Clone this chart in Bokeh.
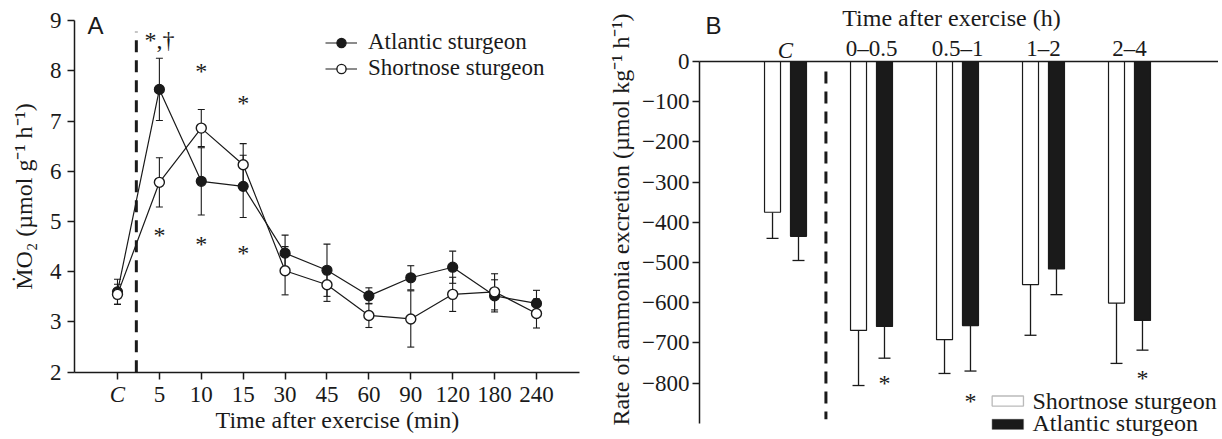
import math
from bokeh.plotting import figure
from bokeh.layouts import row
from bokeh.models import (ColumnDataSource, Whisker, TeeHead, Legend, LegendItem,
                          Label, FixedTicker, BoxAnnotation, Range1d)
from bokeh.core.properties import value
from bokeh.embed import file_html
from bokeh.resources import INLINE

SERIF = "Liberation Serif"
SANS = "Liberation Sans"
INK = "#1a1a1a"

# ---------------- Panel A data ----------------
A_TIMES = ["C", "5", "10", "15", "30", "45", "60", "90", "120", "180", "240"]
A_ATL = [3.60, 7.63, 5.80, 5.70, 4.37, 4.03, 3.52, 3.88, 4.09, 3.52, 3.37]
A_ATL_SE = [0.25, 0.62, 0.67, 0.62, 0.36, 0.52, 0.16, 0.24, 0.32, 0.32, 0.26]
A_SHN = [3.55, 5.78, 6.86, 6.13, 4.02, 3.74, 3.13, 3.06, 3.55, 3.60, 3.17]
A_SHN_SE = [0.20, 0.49, 0.37, 0.42, 0.48, 0.33, 0.24, 0.56, 0.34, 0.36, 0.29]
A_YTICKS = [2, 3, 4, 5, 6, 7, 8, 9]
A_SIG_IDX = [1, 2, 3, 1, 2, 3]
A_SIG_TEXT = ["*,\u2020", "*", "*", "*", "*", "*"]
A_SIG_Y = [8.62, 8.0, 7.36, 4.74, 4.56, 4.38]
A_DIVIDER = 0.45

# ---------------- Panel B data ----------------
B_CATS = ["C", "0\u20130.5", "0.5\u20131", "1\u20132", "2\u20134"]
B_SHN = [-375, -669, -692, -555, -601]
B_SHN_SE = [65, 137, 84, 126, 150]
B_ATL = [-435, -659, -657, -516, -644]
B_ATL_SE = [60, 79, 113, 64, 74]
B_YTICKS = [0, -100, -200, -300, -400, -500, -600, -700, -800]
B_YTICK_LABELS = ["0", "\u2212100", "\u2212200", "\u2212300", "\u2212400",
                  "\u2212500", "\u2212600", "\u2212700", "\u2212800"]
B_SIG_GROUP = [1, 2, 4]
B_SIG_Y = [-800, -845, -788]
B_DIVIDER = 0.47
B_OFFSET = 0.151
B_WIDTH = 0.186


def style_axis(ax, size="23px"):
    ax.axis_line_color = INK
    ax.axis_line_width = 1.5
    ax.major_tick_line_color = INK
    ax.major_tick_line_width = 1.5
    ax.minor_tick_line_color = None
    ax.major_tick_in = 0
    ax.major_tick_out = 7
    ax.major_label_text_font = SERIF
    ax.major_label_text_font_size = size
    ax.major_label_text_color = INK
    ax.axis_label_text_font = SERIF
    ax.axis_label_text_font_size = "24px"
    ax.axis_label_text_font_style = "normal"
    ax.axis_label_text_color = INK


def txt(p, **kw):
    base = dict(text_font=SERIF, text_font_size="24px", text_color=INK,
                text_align="center", text_baseline="middle")
    base.update(kw)
    p.add_layout(Label(**base))


def legend_row(p, label, renderers, loc):
    p.add_layout(Legend(items=[LegendItem(label=label, renderers=renderers)],
                        location=loc, padding=0, margin=0, spacing=0,
                        glyph_width=32, glyph_height=23, label_height=23, label_standoff=11,
                        label_text_font=SERIF, label_text_font_size="23px",
                        label_text_color=INK, border_line_color=None,
                        background_fill_alpha=0))


# ================= Panel A =================
pA = figure(width=599, height=436, output_backend="svg", toolbar_location=None,
            x_range=Range1d(-2.792, 11.504), y_range=Range1d(0.72, 9.40),
            min_border_left=0, min_border_right=0, min_border_top=0, min_border_bottom=0)
pA.outline_line_color = None
pA.xgrid.visible = False
pA.ygrid.visible = False

xA = list(range(len(A_TIMES)))
style_axis(pA.xaxis[0])
style_axis(pA.yaxis[0])
pA.xaxis.fixed_location = 2
pA.xaxis.bounds = (-1.026, 11.03)
pA.xaxis.ticker = FixedTicker(ticks=xA)
pA.xaxis.major_label_overrides = {i: ("" if t == "C" else t) for i, t in zip(xA, A_TIMES)}
pA.xaxis.major_label_standoff = 8
pA.yaxis.fixed_location = -1.026
pA.yaxis.bounds = (2, 9)
pA.yaxis.ticker = FixedTicker(ticks=A_YTICKS)
pA.yaxis.major_label_standoff = 6
pA.yaxis.axis_label = "\u1E40O\u2082 (\u00B5mol g\u207B\u00B9 h\u207B\u00B9)"
pA.yaxis.axis_label_standoff = 10

# divider
pA.segment(x0=[A_DIVIDER], y0=[2], x1=[A_DIVIDER], y1=[8.78],
           line_color=INK, line_width=3, line_dash="12 8")

srcA_atl = ColumnDataSource(dict(x=xA, y=A_ATL,
                                 lo=[m - s for m, s in zip(A_ATL, A_ATL_SE)],
                                 hi=[m + s for m, s in zip(A_ATL, A_ATL_SE)]))
srcA_shn = ColumnDataSource(dict(x=xA, y=A_SHN,
                                 lo=[m - s for m, s in zip(A_SHN, A_SHN_SE)],
                                 hi=[m + s for m, s in zip(A_SHN, A_SHN_SE)]))
for src in (srcA_atl, srcA_shn):
    w = Whisker(source=src, base="x", upper="hi", lower="lo", line_color=INK, line_width=1.1,
                upper_head=TeeHead(size=7, line_color=INK, line_width=1.1),
                lower_head=TeeHead(size=7, line_color=INK, line_width=1.1), level="underlay")
    pA.add_layout(w)

l_atl = pA.line("x", "y", source=srcA_atl, line_color=INK, line_width=1.2)
l_shn = pA.line("x", "y", source=srcA_shn, line_color=INK, line_width=1.2)
m_atl = pA.scatter("x", "y", source=srcA_atl, size=10, marker="circle",
                   fill_color=INK, line_color=INK, line_width=1.2)
m_shn = pA.scatter("x", "y", source=srcA_shn, size=10, marker="circle",
                   fill_color="white", line_color=INK, line_width=1.4)

pA.text(x=A_SIG_IDX, y=A_SIG_Y, text=A_SIG_TEXT, text_font=value(SERIF),
        text_font_size="24px", text_align="center", text_baseline="middle", text_color=INK)

legend_row(pA, "Atlantic sturgeon", [l_atl, m_atl], (325, 381))
legend_row(pA, "Shortnose sturgeon", [l_shn, m_shn], (325, 355))

txt(pA, x=0, y=1.56, text="C", text_font_style="italic", text_font_size="23px",
    text_baseline="alphabetic")
txt(pA, x=5.25, y=1.04, text="Time after exercise (min)")
txt(pA, x=-0.716, y=8.90, text="A", text_font=SANS, text_align="left",
    text_baseline="alphabetic")

# ================= Panel B =================
pB = figure(width=619, height=436, output_backend="svg", toolbar_location=None,
            x_range=Range1d(-2.163, 5.035), y_range=Range1d(-932.8, 151.7),
            x_axis_location="above",
            min_border_left=0, min_border_right=0, min_border_top=0, min_border_bottom=0)
pB.outline_line_color = None
pB.xgrid.visible = False
pB.ygrid.visible = False

xB = list(range(len(B_CATS)))
style_axis(pB.xaxis[0])
style_axis(pB.yaxis[0])
pB.xaxis.fixed_location = 0
pB.xaxis.bounds = (-1, 5.03)
pB.xaxis.ticker = FixedTicker(ticks=xB)
pB.xaxis.major_label_overrides = {i: ("" if c == "C" else c) for i, c in zip(xB, B_CATS)}
pB.xaxis.major_tick_out = 0
pB.xaxis.major_label_standoff = 0
pB.yaxis.fixed_location = -1
pB.yaxis.bounds = (-900, 0)
pB.yaxis.ticker = FixedTicker(ticks=B_YTICKS)
pB.yaxis.major_label_overrides = {t: l for t, l in zip(B_YTICKS, B_YTICK_LABELS)}
pB.yaxis.major_label_standoff = 3

pB.segment(x0=[B_DIVIDER], y0=[-25], x1=[B_DIVIDER], y1=[-890],
           line_color=INK, line_width=3, line_dash="12 8")

srcB_shn = ColumnDataSource(dict(x=[i - B_OFFSET for i in xB], y=B_SHN,
                                 lo=[m - s for m, s in zip(B_SHN, B_SHN_SE)]))
srcB_atl = ColumnDataSource(dict(x=[i + B_OFFSET for i in xB], y=B_ATL,
                                 lo=[m - s for m, s in zip(B_ATL, B_ATL_SE)]))
for src in (srcB_shn, srcB_atl):
    w = Whisker(source=src, base="x", upper="y", lower="lo", line_color=INK, line_width=1.3,
                upper_head=None,
                lower_head=TeeHead(size=12, line_color=INK, line_width=1.3), level="underlay")
    pB.add_layout(w)

pB.vbar(x="x", top=0, bottom="y", width=B_WIDTH, source=srcB_shn,
        fill_color="white", line_color=INK, line_width=1.2)
pB.vbar(x="x", top=0, bottom="y", width=B_WIDTH, source=srcB_atl,
        fill_color=INK, line_color=INK, line_width=1.2)

pB.text(x=[g + B_OFFSET for g in B_SIG_GROUP], y=B_SIG_Y, text=["*"] * len(B_SIG_GROUP),
        text_font=value(SERIF), text_font_size="24px", text_align="center",
        text_baseline="middle", text_color=INK)

# legend (manual swatches)
pB.add_layout(BoxAnnotation(left=2.403, right=2.767, top=-832, bottom=-857,
                            fill_color="white", fill_alpha=1, line_color=INK, line_width=1.3,
                            level="overlay"))
pB.add_layout(BoxAnnotation(left=2.403, right=2.767, top=-890, bottom=-915,
                            fill_color=INK, fill_alpha=1, line_color=INK, line_width=1.3,
                            level="overlay"))
txt(pB, x=2.872, y=-844, text="Shortnose sturgeon", text_align="left")
txt(pB, x=2.872, y=-898, text="Atlantic sturgeon", text_align="left")

txt(pB, x=0, y=27.4, text="C", text_font_style="italic", text_font_size="23px",
    text_baseline="alphabetic")
txt(pB, x=1.93, y=107, text="Time after exercise (h)")
txt(pB, x=-1.918, y=-393, angle=math.pi / 2,
    text="Rate of ammonia excretion (\u00B5mol kg\u207B\u00B9 h\u207B\u00B9)")
txt(pB, x=-0.93, y=89.5, text="B", text_font=SANS, text_align="left",
    text_baseline="alphabetic")

layout = row(pA, pB, spacing=0)
open("out.html", "w").write(file_html(layout, INLINE))
